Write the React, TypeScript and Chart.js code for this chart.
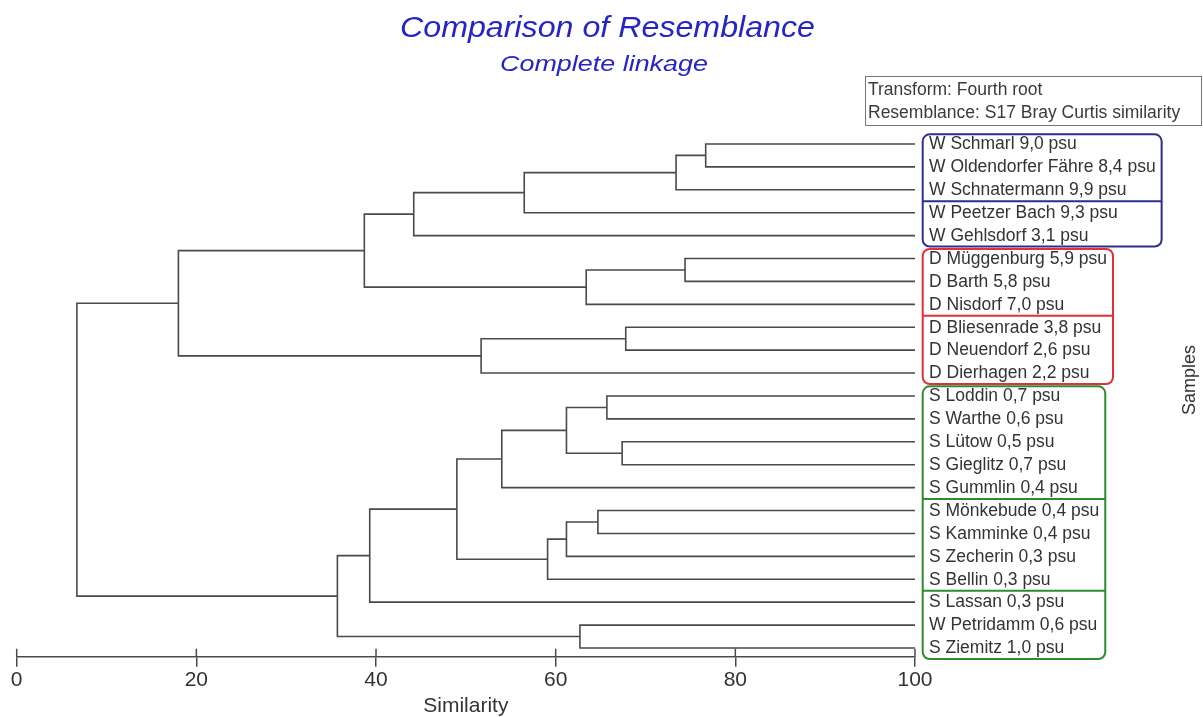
import React, { useEffect, useRef } from "react";
import { Chart, registerables } from "chart.js";

Chart.register(...registerables);

// ---------- data ----------
const leafLabels = [
  "W Schmarl 9,0 psu",
  "W Oldendorfer Fähre 8,4 psu",
  "W Schnatermann 9,9 psu",
  "W Peetzer Bach 9,3 psu",
  "W Gehlsdorf 3,1 psu",
  "D Müggenburg 5,9 psu",
  "D Barth 5,8 psu",
  "D Nisdorf 7,0 psu",
  "D Bliesenrade 3,8 psu",
  "D Neuendorf 2,6 psu",
  "D Dierhagen 2,2 psu",
  "S Loddin 0,7 psu",
  "S Warthe 0,6 psu",
  "S Lütow 0,5 psu",
  "S Gieglitz 0,7 psu",
  "S Gummlin 0,4 psu",
  "S Mönkebude 0,4 psu",
  "S Kamminke 0,4 psu",
  "S Zecherin 0,3 psu",
  "S Bellin 0,3 psu",
  "S Lassan 0,3 psu",
  "W Petridamm 0,6 psu",
  "S Ziemitz 1,0 psu",
];

// node ids: leaves 0..22, merge k gets id 23 + k
const mergePairs: [number, number][] = [
  [0, 1], // 23
  [23, 2], // 24
  [24, 3], // 25
  [25, 4], // 26
  [5, 6], // 27
  [27, 7], // 28
  [26, 28], // 29
  [8, 9], // 30
  [30, 10], // 31
  [29, 31], // 32
  [11, 12], // 33
  [13, 14], // 34
  [33, 34], // 35
  [35, 15], // 36
  [16, 17], // 37
  [37, 18], // 38
  [38, 19], // 39
  [36, 39], // 40
  [40, 20], // 41
  [21, 22], // 42
  [41, 42], // 43
  [32, 43], // 44 root
];

const mergeSimilarity = [
  76.7, 73.4, 56.5, 44.2, 74.4, 63.4, 38.7, 67.8, 51.7, 18.0, 65.7, 67.4,
  61.2, 54.0, 64.7, 61.2, 59.1, 49.0, 39.3, 62.7, 35.7, 6.7,
];

const xTickValues = [0, 20, 40, 60, 80, 100];

const groupColors = ["#2e2e8c", "#e0303a", "#2e8c2e"];
const groupFirstLeaf = [0, 5, 11];
const groupLastLeaf = [4, 10, 22];
const groupSplitBefore = [[3], [8], [16, 20]];

const titleText = "Comparison of Resemblance";
const subtitleText = "Complete linkage";
const infoLines = ["Transform: Fourth root", "Resemblance: S17 Bray Curtis similarity"];
const xAxisTitle = "Similarity";
const yAxisTitle = "Samples";

// ---------- helpers ----------
const FONT = '"Liberation Sans", Arial, Helvetica, sans-serif';
const LINE = "#4a4a4a";
const TEXT = "#333333";

function buildSegments() {
  const nodeY: number[] = leafLabels.map((_, i) => i);
  const nodeSim: number[] = leafLabels.map(() => 100);
  const segs: { x: number; y: number }[][] = [];
  mergePairs.forEach(([a, b], k) => {
    const m = mergeSimilarity[k];
    segs.push([
      { x: nodeSim[a], y: nodeY[a] },
      { x: m, y: nodeY[a] },
      { x: m, y: nodeY[b] },
      { x: nodeSim[b], y: nodeY[b] },
    ]);
    nodeY.push((nodeY[a] + nodeY[b]) / 2);
    nodeSim.push(m);
  });
  return segs;
}

function scaledText(
  ctx: CanvasRenderingContext2D,
  text: string,
  cx: number,
  baseline: number,
  font: string,
  targetWidth: number,
  color: string
) {
  ctx.save();
  ctx.font = font;
  const w = ctx.measureText(text).width;
  const sx = targetWidth / w;
  ctx.translate(cx, baseline);
  ctx.scale(sx, 1);
  ctx.fillStyle = color;
  ctx.textAlign = "center";
  ctx.textBaseline = "alphabetic";
  ctx.fillText(text, 0, 0);
  ctx.restore();
}

const decorPlugin = {
  id: "decor",
  afterDraw(chart: any) {
    const ctx: CanvasRenderingContext2D = chart.ctx;
    const xs = chart.scales.x;
    const ys = chart.scales.y;
    const bottom = chart.chartArea.bottom;
    ctx.save();

    // upper half of the axis ticks (ticks cross the axis line)
    ctx.strokeStyle = LINE;
    ctx.lineWidth = 1.5;
    xs.ticks.forEach((t: any) => {
      const px = xs.getPixelForValue(t.value);
      ctx.beginPath();
      ctx.moveTo(px, bottom - 8);
      ctx.lineTo(px, bottom);
      ctx.stroke();
    });

    // titles
    scaledText(ctx, titleText, 607.5, 37, `italic 29px ${FONT}`, 415, "#2424c8");
    scaledText(ctx, subtitleText, 604, 70.5, `italic 22.5px ${FONT}`, 208, "#2424c8");

    // info box
    ctx.strokeStyle = "#777";
    ctx.lineWidth = 1;
    ctx.strokeRect(865.5, 76.5, 336, 49);
    ctx.fillStyle = "#3a3a3a";
    ctx.font = `17.5px ${FONT}`;
    ctx.textAlign = "left";
    ctx.textBaseline = "middle";
    ctx.fillText(infoLines[0], 868, 90);
    ctx.fillText(infoLines[1], 868, 113.5);

    // leaf labels
    const x100 = xs.getPixelForValue(100);
    const textX = x100 + 14;
    ctx.fillStyle = TEXT;
    leafLabels.forEach((lab, i) => {
      ctx.fillText(lab, textX, ys.getPixelForValue(i) + 0.5);
    });

    // group boxes
    groupColors.forEach((col, g) => {
      const first = groupFirstLeaf[g];
      const last = groupLastLeaf[g];
      let maxW = 0;
      for (let i = first; i <= last; i++) {
        maxW = Math.max(maxW, ctx.measureText(leafLabels[i]).width);
      }
      const left = x100 + 7.7;
      const right = textX + maxW + 6;
      const top = ys.getPixelForValue(first - 0.42);
      const bot = ys.getPixelForValue(last + 0.48);
      ctx.strokeStyle = col;
      ctx.lineWidth = 2;
      ctx.beginPath();
      (ctx as any).roundRect(left, top, right - left, bot - top, 7);
      ctx.stroke();
      groupSplitBefore[g].forEach((s) => {
        const y = ys.getPixelForValue(s - 0.5);
        ctx.beginPath();
        ctx.moveTo(left, y);
        ctx.lineTo(right, y);
        ctx.stroke();
      });
    });

    // y axis title
    ctx.save();
    ctx.translate(1190, 380);
    ctx.rotate(-Math.PI / 2);
    ctx.font = `18px ${FONT}`;
    ctx.fillStyle = TEXT;
    ctx.textAlign = "center";
    ctx.textBaseline = "middle";
    ctx.fillText(yAxisTitle, 0, 0);
    ctx.restore();

    ctx.restore();
  },
};

export default function App() {
  const ref = useRef<HTMLCanvasElement | null>(null);

  useEffect(() => {
    if (!ref.current) return;
    const segs = buildSegments();
    const chart = new Chart(ref.current, {
      type: "scatter",
      data: {
        datasets: segs.map((pts) => ({
          data: pts,
          showLine: true,
          borderColor: LINE,
          borderWidth: 1.6,
          pointRadius: 0,
          pointHoverRadius: 0,
          fill: false,
          tension: 0,
          clip: false,
        })),
      },
      options: {
        responsive: false,
        animation: false,
        events: [],
        layout: { padding: { left: 16.7, right: 288, top: 130.2, bottom: 0 } },
        plugins: {
          legend: { display: false },
          title: { display: false },
          tooltip: { enabled: false },
        },
        scales: {
          x: {
            type: "linear",
            min: 0,
            max: 100,
            afterBuildTicks: (scale: any) => {
              scale.ticks = xTickValues.map((v) => ({ value: v }));
            },
            grid: {
              display: true,
              drawOnChartArea: false,
              drawTicks: true,
              tickLength: 10,
              color: LINE,
              lineWidth: 1.5,
            },
            border: { display: true, color: LINE, width: 1.5 },
            ticks: {
              padding: 1,
              color: TEXT,
              font: { family: FONT, size: 21 },
              maxRotation: 0,
            },
            title: {
              display: true,
              text: xAxisTitle,
              color: TEXT,
              font: { family: FONT, size: 21, lineHeight: 1 },
              padding: { top: 1.6, bottom: 0.5 },
            },
          },
          y: {
            type: "linear",
            display: false,
            reverse: true,
            min: -0.6,
            max: 22.38,
          },
        },
      },
      plugins: [decorPlugin],
    });
    return () => chart.destroy();
  }, []);

  return (
    <div style={{ position: "fixed", left: 0, top: 0, width: 1203, height: 717, background: "#fff" }}>
      <canvas ref={ref} width={1203} height={717} style={{ width: 1203, height: 717, display: "block" }} />
    </div>
  );
}
